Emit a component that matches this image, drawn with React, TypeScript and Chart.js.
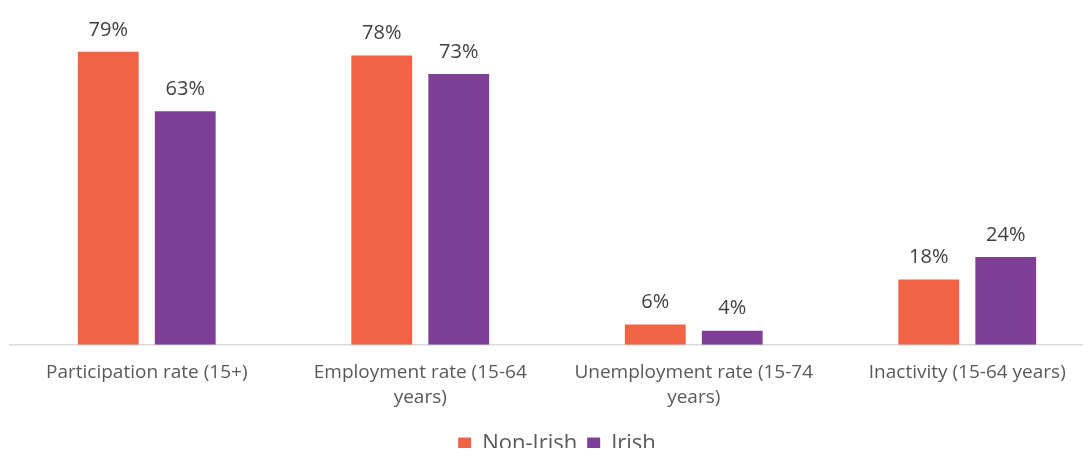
import { useRef, useEffect } from "react";
import { Chart, registerables } from "chart.js";

Chart.register(...registerables);

const categories = [
  ["Participation rate (15+)"],
  ["Employment rate (15-64", "years)"],
  ["Unemployment rate (15-74", "years)"],
  ["Inactivity (15-64 years)"],
];
const nonIrish = [79, 78, 5.5, 17.6];
const irish = [63, 73, 3.8, 23.7];

const FONT = "'Open Sans', Lato, sans-serif";

// draws the percentage above each bar
const barLabels = {
  id: "barLabels",
  afterDatasetsDraw(chart: Chart) {
    const ctx = chart.ctx;
    ctx.save();
    ctx.font = `20px ${FONT}`;
    ctx.fillStyle = "#404040";
    ctx.textAlign = "center";
    ctx.textBaseline = "middle";
    chart.data.datasets.forEach((ds, i) => {
      const meta = chart.getDatasetMeta(i);
      meta.data.forEach((bar: any, j) => {
        const v = ds.data[j] as number;
        ctx.fillText(`${Math.round(v)}%`, bar.x, bar.y - 22);
      });
    });
    ctx.restore();
  },
};

const LabourChart = () => {
  const chartRef = useRef<HTMLCanvasElement>(null);
  const chartInstance = useRef<Chart | null>(null);

  useEffect(() => {
    if (!chartRef.current) return;
    if (chartInstance.current) chartInstance.current.destroy();
    const ctx = chartRef.current.getContext("2d");
    if (!ctx) return;

    chartInstance.current = new Chart(ctx, {
      type: "bar",
      data: {
        labels: categories,
        datasets: [
          {
            label: "Non-Irish",
            data: nonIrish,
            backgroundColor: "#F26244",
            barPercentage: 0.79,
            categoryPercentage: 0.563,
          },
          {
            label: "Irish",
            data: irish,
            backgroundColor: "#7F3F97",
            barPercentage: 0.79,
            categoryPercentage: 0.563,
          },
        ],
      },
      options: {
        responsive: false,
        animation: false,
        layout: { padding: { top: 11, left: 10, right: 2, bottom: 0 } },
        plugins: {
          legend: {
            position: "bottom",
            labels: {
              boxWidth: 13,
              boxHeight: 13,
              padding: 10,
              color: "#595959",
              font: { family: FONT, size: 22 },
            },
          },
          tooltip: { enabled: false },
        },
        scales: {
          y: {
            display: false,
            min: 0,
            max: 90,
          },
          x: {
            grid: { display: false },
            border: { color: "#D9D9D9", width: 1.5 },
            ticks: {
              color: "#595959",
              font: { family: FONT, size: 19, lineHeight: 1.32 },
              padding: 7,
              maxRotation: 0,
              autoSkip: false,
            },
            afterFit(scale: any) {
              scale.height += 6;
            },
          },
        },
      },
      plugins: [barLabels],
    });

    return () => {
      if (chartInstance.current) chartInstance.current.destroy();
    };
  }, []);

  return (
    <div style={{ margin: -8, width: 1091, height: 456, overflow: "hidden", background: "#fff" }}>
      <canvas ref={chartRef} width={1106} height={465} role="img" aria-label="Labour market rates, Non-Irish vs Irish" />
    </div>
  );
};

export default function App() {
  return <LabourChart />;
}
